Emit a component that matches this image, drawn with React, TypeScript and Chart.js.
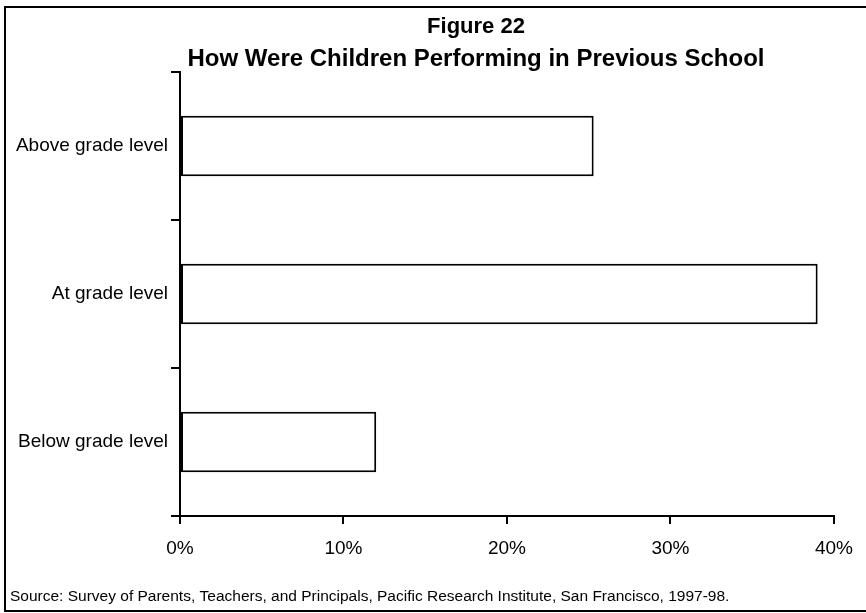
import React, { useEffect, useRef } from "react";
import { Chart, registerables } from "chart.js";

Chart.register(...registerables);

const categories = ["Above grade level", "At grade level", "Below grade level"];
const values = [25.3, 39, 12];
const xTickValues = [0, 10, 20, 30, 40];
const titleLines = ["Figure 22", "How Were Children Performing in Previous School"];
const sourceText =
  "Source: Survey of Parents, Teachers, and Principals, Pacific Research Institute, San Francisco, 1997-98.";

const W = 866;
const H = 613;
const FONT = "'Liberation Sans', Arial, sans-serif";

const textPlugin = {
  id: "figureTexts",
  afterDraw(chart: any) {
    const ctx = chart.ctx;
    ctx.save();
    ctx.fillStyle = "#000";
    ctx.textAlign = "center";
    ctx.textBaseline = "middle";
    ctx.font = `bold 22px ${FONT}`;
    ctx.fillText(titleLines[0], 476, 27);
    ctx.font = `bold 24px ${FONT}`;
    ctx.fillText(titleLines[1], 476, 59);
    ctx.textAlign = "left";
    ctx.font = `15.5px ${FONT}`;
    ctx.fillText(sourceText, 10, 597);
    ctx.restore();
  },
};

export default function App() {
  const ref = useRef<HTMLCanvasElement>(null);
  useEffect(() => {
    const chart = new Chart(ref.current as HTMLCanvasElement, {
      type: "bar",
      data: {
        labels: categories,
        datasets: [
          {
            data: values,
            backgroundColor: "#ffffff",
            borderColor: "#000000",
            borderWidth: 2,
            borderSkipped: false,
            barPercentage: 0.82,
            categoryPercentage: 0.5,
          },
        ],
      },
      options: {
        indexAxis: "y",
        responsive: false,
        animation: false,
        devicePixelRatio: 1,
        layout: { padding: { top: 72, left: 0, right: 31, bottom: 47 } },
        plugins: {
          legend: { display: false },
          tooltip: { enabled: false },
          title: { display: false },
        },
        scales: {
          x: {
            type: "linear",
            min: 0,
            max: 40,
            afterBuildTicks: (s: any) => {
              s.ticks = xTickValues.map((v) => ({ value: v }));
            },
            afterFit: (s: any) => {
              s.height = 50;
            },
            ticks: {
              color: "#000",
              padding: 13,
              maxRotation: 0,
              font: { family: FONT, size: 19 },
              callback: (v: any) => `${v}%`,
            },
            grid: {
              drawOnChartArea: false,
              drawTicks: true,
              tickLength: 8,
              color: "#000",
              lineWidth: 2,
            },
            border: { display: true, color: "#000", width: 2 },
          },
          y: {
            type: "category",
            afterFit: (s: any) => {
              s.width = 180;
            },
            ticks: {
              color: "#000",
              padding: 3,
              font: { family: FONT, size: 19 },
            },
            grid: {
              drawOnChartArea: false,
              drawTicks: true,
              tickLength: 9,
              offset: true,
              color: "#000",
              lineWidth: 2,
            },
            border: { display: true, color: "#000", width: 2 },
          },
        },
      },
      plugins: [textPlugin],
    });
    return () => chart.destroy();
  }, []);

  return (
    <div style={{ position: "absolute", left: 0, top: 0, width: W, height: H, background: "#fff" }}>
      <div
        style={{
          position: "absolute",
          left: 4,
          top: 6,
          width: W + 10,
          height: 606,
          border: "2px solid #000",
          boxSizing: "border-box",
        }}
      />
      <canvas ref={ref} width={W} height={H} style={{ position: "absolute", left: 0, top: 0, width: W, height: H }} />
    </div>
  );
}
